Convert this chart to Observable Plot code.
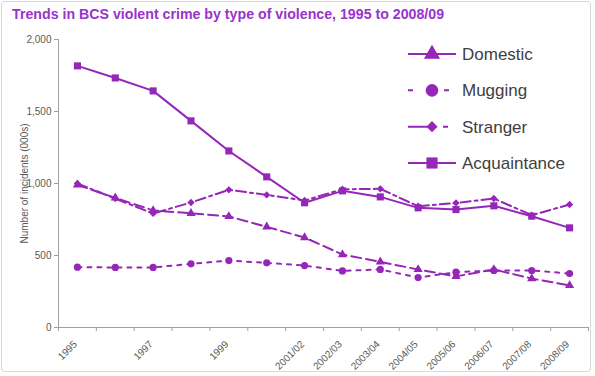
<!DOCTYPE html>
<html>
<head>
<meta charset="utf-8">
<script src="https://cdn.jsdelivr.net/npm/d3@7"></script>
<script src="https://cdn.jsdelivr.net/npm/@observablehq/plot@0.6"></script>
<style>
  html, body { margin: 0; padding: 0; background: #fff; }
  #wrap { position: relative; width: 595px; height: 376px; overflow: hidden; font-family: "Liberation Sans", Arial, sans-serif; }
  #frame { position: absolute; left: 1px; top: 1px; width: 590px; height: 371px; border: 1px solid #d9d9d9; border-radius: 3px; box-sizing: border-box; }
  #title { position: absolute; left: 12px; top: 6px; font-size: 14.2px; line-height: 17px; font-weight: bold; color: #9933CC; white-space: nowrap; }
  #chart { position: absolute; left: 0; top: 0; }
  #legend { position: absolute; left: 0; top: 0; }
</style>
</head>
<body>
<div id="wrap">
  <div id="frame"></div>
  <div id="chart"></div>
  <div id="title">Trends in BCS violent crime by type of violence, 1995 to 2008/09</div>
  <div id="legend"></div>
</div>
<script>
// ---- data ----
const categories = ["1995","1996","1997","1998","1999","2000","2001/02","2002/03","2003/04","2004/05","2005/06","2006/07","2007/08","2008/09"];
const tickLabels = ["1995","","1997","","1999","","2001/02","2002/03","2003/04","2004/05","2005/06","2006/07","2007/08","2008/09"];
const seriesNames = ["Domestic","Mugging","Stranger","Acquaintance"];
const domestic     = [990, 900, 813, 793, 771, 699, 625, 507, 456, 403, 355, 403, 340, 292];
const mugging      = [419, 417, 417, 442, 465, 449, 430, 393, 403, 347, 384, 396, 396, 375];
const stranger     = [1000, 895, 792, 868, 956, 921, 882, 960, 963, 842, 865, 896, 780, 854];
const acquaintance = [1817, 1733, 1643, 1435, 1226, 1046, 866, 949, 907, 831, 819, 845, 773, 692];
const yTicks = [0, 500, 1000, 1500, 2000];
const yLabel = "Number of incidents (000s)";

// ---- styles ----
const purple = "#9526B8";
const styles = {
  Domestic:     {symbol: "triangle", r: 3.4, dash: "10,5",      legendDash: null},
  Mugging:      {symbol: "circle",   r: 3.6, dash: "4,6",       legendDash: "5,31"},
  Stranger:     {symbol: "diamond2", r: 3.3, dash: "10,4,3,4",  legendDash: "22,13,5,100"},
  Acquaintance: {symbol: "square",   r: 4.0, dash: null,        legendDash: null}
};
const valuesBy = {Domestic: domestic, Mugging: mugging, Stranger: stranger, Acquaintance: acquaintance};

const rows = seriesNames.map(name => valuesBy[name].map((v, i) => ({name, i, v})));

const boundaries = d3.range(categories.length + 1).map(k => k - 0.5);
const labeledIdx = d3.range(categories.length).filter(i => tickLabels[i] !== "");

const marks = [
  Plot.ruleY([0], {stroke: "#a0a0a0"}),
  Plot.ruleX([boundaries[0]], {stroke: "#a0a0a0"}),
  Plot.axisY({ticks: yTicks, tickFormat: d3.format(","), tickSize: 4, tickPadding: 3, stroke: "#a0a0a0", fill: "#595959",
              label: yLabel, labelAnchor: "center", labelOffset: 38, labelArrow: "none"}),
  Plot.axisX({ticks: boundaries, tickSize: 4, stroke: "#a0a0a0", fill: "none", label: null}),
  Plot.axisX({ticks: labeledIdx, tickSize: 0, tickPadding: 10, tickRotate: -45, tickFormat: i => tickLabels[i], fill: "#595959", label: null, dx: -2, dy: 5})
];
for (const [k, name] of seriesNames.entries()) {
  const s = styles[name];
  marks.push(Plot.line(rows[k], {x: "i", y: "v", stroke: purple, strokeWidth: 2, strokeDasharray: s.dash || undefined, strokeLinejoin: "round"}));
}
for (const [k, name] of seriesNames.entries()) {
  const s = styles[name];
  marks.push(Plot.dot(rows[k], {x: "i", y: "v", symbol: () => s.symbol, r: s.r, fill: purple, stroke: "none"}));
}

const chart = Plot.plot({
  width: 595, height: 376,
  marginLeft: 58, marginRight: 7, marginTop: 39, marginBottom: 49,
  x: {type: "linear", domain: [boundaries[0], boundaries[boundaries.length - 1]], axis: null},
  y: {domain: [0, 2000], axis: null},
  symbol: {type: "identity"},
  style: {fontFamily: "'Liberation Sans', Arial, sans-serif", fontSize: "10px", color: "#595959", background: "transparent", overflow: "visible"},
  marks
});
document.getElementById("chart").appendChild(chart);

// ---- legend ----
const lg = d3.select("#legend").append("svg").attr("width", 595).attr("height", 376);
const rowY = d3.scalePoint().domain(seriesNames).range([54, 163]);
for (const name of seriesNames) {
  const s = styles[name];
  const g = lg.append("g").attr("transform", `translate(0,${rowY(name)})`);
  g.append("line").attr("x1", 408).attr("x2", 456).attr("y1", 0).attr("y2", 0)
    .attr("stroke", purple).attr("stroke-width", 2)
    .attr("stroke-dasharray", s.legendDash);
  const symMap = {triangle: d3.symbolTriangle, circle: d3.symbolCircle, diamond2: d3.symbolDiamond2, square: d3.symbolSquare};
  const sz = {triangle: 6, circle: 6.3, diamond2: 5, square: 6.3}[s.symbol];
  g.append("path").attr("transform", "translate(432,0)")
    .attr("d", d3.symbol(symMap[s.symbol], sz * sz * Math.PI)())
    .attr("fill", purple);
  g.append("text").attr("x", 462).attr("y", 0).attr("dy", "0.35em")
    .attr("font-family", "'Liberation Sans', Arial, sans-serif").attr("font-size", 17)
    .attr("fill", "#404040").text(name);
}
</script>
</body>
</html>
